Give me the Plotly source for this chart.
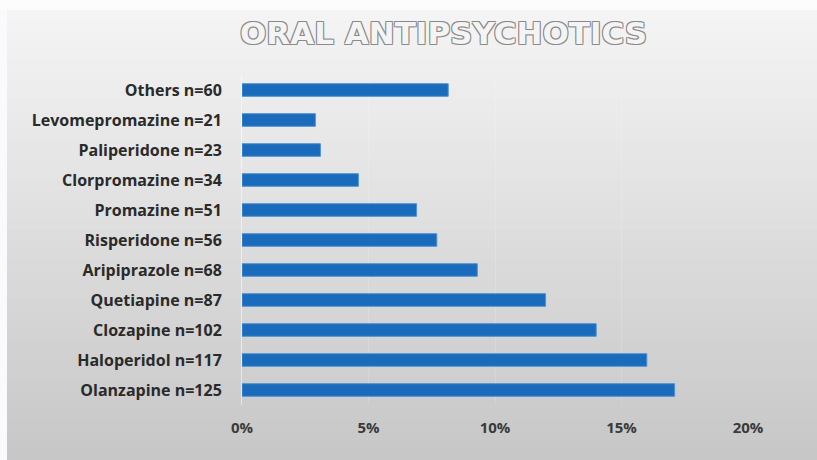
import plotly.graph_objects as go

categories = ["Olanzapine n=125", "Haloperidol n=117", "Clozapine n=102", "Quetiapine n=87",
              "Aripiprazole n=68", "Risperidone n=56", "Promazine n=51", "Clorpromazine n=34",
              "Paliperidone n=23", "Levomepromazine n=21", "Others n=60"]
values = [17.1, 16.0, 14.0, 12.0, 9.3, 7.7, 6.9, 4.6, 3.1, 2.9, 8.15]
tick_vals = [0, 5, 10, 15, 20]
tick_text = ["0%", "5%", "10%", "15%", "20%"]
title_text = "ORAL ANTIPSYCHOTICS"

W, H = 817, 460
ML, MR, MT, MB = 242, 69, 75, 55
PW, PH = W - ML - MR, H - MT - MB

def px_x(px):
    return (px - ML) / PW

def px_y(py):
    return (H - MB - py) / PH

fig = go.Figure(go.Bar(
    x=values, y=categories, orientation="h",
    marker=dict(color="#1a6bbb", line=dict(color="#4d92d6", width=1)),
    width=0.42,
))

# background gradient stripes
shapes = []
n = 46
for i in range(n):
    y0 = i * H / n
    y1 = (i + 1) * H / n + 1
    t = i / (n - 1)
    g = int(round(245 - t * 46))
    shapes.append(dict(type="rect", xref="paper", yref="paper", layer="below",
                       x0=px_x(0), x1=px_x(W), y0=px_y(y1), y1=px_y(y0),
                       fillcolor=f"rgb({g},{g},{g})", line=dict(width=0)))
# light left strip
shapes.append(dict(type="rect", xref="paper", yref="paper", layer="below",
                   x0=px_x(0), x1=px_x(7), y0=px_y(H), y1=px_y(0),
                   fillcolor="rgb(250,250,252)", line=dict(width=0)))
# top light strip
shapes.append(dict(type="rect", xref="paper", yref="paper", layer="below",
                   x0=px_x(0), x1=px_x(W), y0=px_y(10), y1=px_y(0),
                   fillcolor="rgb(252,252,252)", line=dict(width=0)))

fig.update_layout(
    width=W, height=H,
    margin=dict(l=ML, r=MR, t=MT, b=MB, autoexpand=False),
    paper_bgcolor="rgb(230,230,230)",
    plot_bgcolor="rgba(0,0,0,0)",
    shapes=shapes,
    showlegend=False,
    annotations=[dict(
        text=title_text, xref="paper", yref="paper",
        x=px_x(443), y=px_y(33), xanchor="center", yanchor="middle",
        showarrow=False,
        font=dict(family="DejaVu Sans", size=31, color="#f4f4f4", weight="bold",
                  shadow="1px 1px 0 #8a8a8a, -1px -1px 0 #8a8a8a, 1px -1px 0 #8a8a8a, -1px 1px 0 #8a8a8a"),
    )],
)

fig.update_xaxes(
    range=[0, 20], tickvals=tick_vals, ticktext=tick_text,
    showgrid=True, gridcolor="rgba(255,255,255,0.15)", gridwidth=1,
    zeroline=False, showline=False, ticks="",
    tickfont=dict(family="Open Sans", size=15, color="#3a3a3a", weight="bold"),
    ticklabelstandoff=12,
)
fig.update_yaxes(
    categoryorder="array", categoryarray=categories,
    range=[-0.5, len(categories) - 0.5],
    showgrid=False, zeroline=False, ticks="",
    showline=True, linecolor="rgba(255,255,255,0.5)", linewidth=1,
    tickfont=dict(family="Open Sans", size=16, color="#2a2a2a", weight="bold"),
    ticklabelstandoff=16,
)

fig.write_html("out.html")
